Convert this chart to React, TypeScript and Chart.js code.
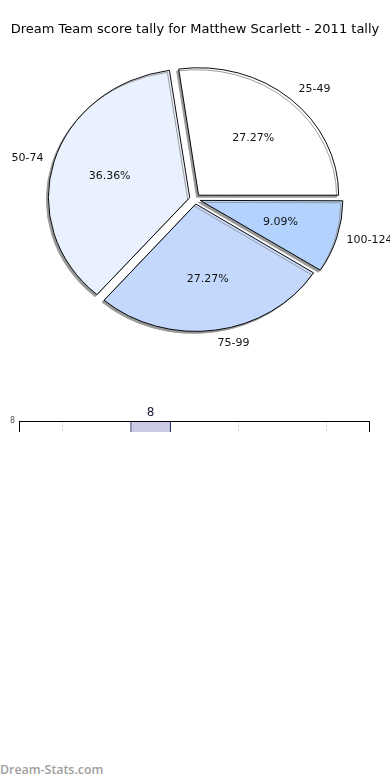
import React, { useEffect, useRef } from "react";
import { Chart, registerables } from "chart.js";
Chart.register(...registerables);

const TITLE = "Dream Team score tally for Matthew Scarlett - 2011 tally";

// Pie data (drawn clockwise from 3 o'clock, so listed in reverse of the visual CCW order)
const pieLabels = ["100-124", "75-99", "50-74", "25-49"];
const pieValues = [1, 3, 4, 3];
const pieColors = ["#b3d3fe", "#c4d8fe", "#eaf1fe", "#ffffff"];

// Bar chart (only its top strip is visible)
const barLabels = ["Cat 1", "Cat 2", "Cat 3", "Cat 4"];
const barValues = [5, 8, 3, 2];
const barTicksMax = 8;

const SY = 0.91; // vertical squash of the pie

const pieDecor = {
  id: "pieDecor",
  beforeDatasetsDraw(chart: any) {
    const arc = chart.getDatasetMeta(0).data[0];
    const ctx = chart.ctx;
    ctx.save();
    ctx.translate(arc.x, arc.y);
    ctx.scale(1, SY);
    ctx.translate(-arc.x, -arc.y);
    ctx.shadowColor = "#999999";
    ctx.shadowOffsetX = -2;
    ctx.shadowOffsetY = 2;
    ctx.shadowBlur = 0;
  },
  afterDatasetsDraw(chart: any) {
    const ctx = chart.ctx;
    ctx.restore();
    const meta = chart.getDatasetMeta(0);
    const total = pieValues.reduce((a, b) => a + b, 0);
    ctx.save();
    ctx.font = "11px 'DejaVu Sans'";
    ctx.fillStyle = "#111";
    ctx.textBaseline = "middle";
    meta.data.forEach((arc: any, i: number) => {
      const mid = (arc.startAngle + arc.endAngle) / 2;
      const c = Math.cos(mid), s = Math.sin(mid);
      const pct = ((pieValues[i] / total) * 100).toFixed(2) + "%";
      ctx.textAlign = "center";
      ctx.fillText(pct, arc.x + 89 * c, arc.y + 89 * s * SY);
      ctx.textAlign = c >= 0 ? "left" : "right";
      ctx.fillText(pieLabels[i], arc.x + 158 * c, arc.y + 160 * s * SY);
    });
    ctx.restore();
  },
  afterDraw(chart: any) {
    const ctx = chart.ctx;
    ctx.save();
    ctx.font = "13px 'DejaVu Sans'";
    ctx.fillStyle = "#000";
    ctx.textAlign = "center";
    ctx.textBaseline = "middle";
    ctx.fillText(TITLE, 195, 30);
    ctx.restore();
  },
};

const barDecor = {
  id: "barDecor",
  afterDraw(chart: any) {
    const ctx = chart.ctx;
    const a = chart.chartArea;
    ctx.save();
    ctx.strokeStyle = "#000";
    ctx.lineWidth = 1;
    ctx.strokeRect(Math.round(a.left) + 0.5, Math.round(a.top) + 0.5, Math.round(a.right - a.left) - 1, Math.round(a.bottom - a.top) - 1);
    const meta = chart.getDatasetMeta(0);
    ctx.font = "12px 'DejaVu Sans'";
    ctx.fillStyle = "#1a1a3a";
    ctx.textAlign = "center";
    ctx.textBaseline = "bottom";
    meta.data.forEach((bar: any, i: number) => {
      ctx.fillText(String(barValues[i]), bar.x, bar.y - 2);
    });
    ctx.restore();
  },
};

export default function App() {
  const pieRef = useRef<HTMLCanvasElement>(null);
  const barRef = useRef<HTMLCanvasElement>(null);

  useEffect(() => {
    const pie = new Chart(pieRef.current!, {
      type: "pie",
      data: {
        labels: pieLabels,
        datasets: [
          {
            data: pieValues,
            backgroundColor: pieColors,
            borderColor: "#000",
            borderWidth: 1,
            offset: 22,
            clip: false as any,
          },
        ],
      },
      options: {
        responsive: false,
        maintainAspectRatio: false,
        animation: false,
        rotation: 90,
        radius: 140,
        layout: { padding: { top: 0, bottom: 2, left: 0, right: 0 } },
        plugins: { legend: { display: false }, title: { display: false }, tooltip: { enabled: false } },
        events: [],
      } as any,
      plugins: [pieDecor],
    });

    const bar = new Chart(barRef.current!, {
      type: "bar",
      data: {
        labels: barLabels,
        datasets: [
          {
            data: barValues,
            backgroundColor: "#cbcbe5",
            borderColor: "#1a1a5a",
            borderWidth: 1,
            barThickness: 40,
          },
        ],
      },
      options: {
        responsive: false,
        maintainAspectRatio: false,
        animation: false,
        layout: { padding: { top: 21, right: 20, left: 0, bottom: 0 } },
        plugins: { legend: { display: false }, title: { display: false }, tooltip: { enabled: false } },
        events: [],
        scales: {
          x: {
            ticks: { display: false },
            grid: { offset: false, color: "#cccccc", drawTicks: false },
            border: { display: false, dash: [2, 2] },
          },
          y: {
            min: 0,
            max: barTicksMax,
            ticks: { stepSize: 2, font: { size: 8, family: "'DejaVu Sans'" }, color: "#555", padding: 4 },
            grid: { display: false, drawTicks: false },
            border: { display: false },
            afterFit: (s: any) => {
              s.width = 19;
            },
          },
        },
      } as any,
      plugins: [barDecor],
    });

    return () => {
      pie.destroy();
      bar.destroy();
    };
  }, []);

  return (
    <div style={{ position: "absolute", left: 0, top: 0, width: 390, height: 780, background: "#fff", overflow: "hidden" }}>
      <canvas ref={pieRef} width={390} height={400} style={{ position: "absolute", left: 0, top: 0, width: 390, height: 400 }} />
      <div style={{ position: "absolute", left: 0, top: 400, width: 390, height: 32, overflow: "hidden" }}>
        <canvas ref={barRef} width={390} height={300} style={{ position: "absolute", left: 0, top: 0, width: 390, height: 300 }} />
      </div>
      <div
        style={{
          position: "absolute",
          left: 0,
          top: 761,
          fontFamily: "'Open Sans', sans-serif",
          fontWeight: 600,
          fontSize: 12.4,
          color: "#a0a0a0",
          whiteSpace: "nowrap",
        }}
      >
        Dream-Stats.com
      </div>
    </div>
  );
}
